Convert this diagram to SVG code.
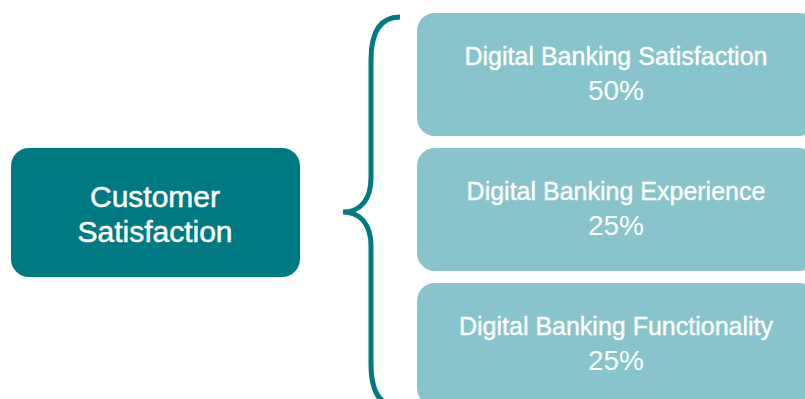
<svg xmlns="http://www.w3.org/2000/svg" width="805" height="399" viewBox="0 0 805 399">
<style>
.main{fill:#007A82;}
.sub{fill:#88C4CB;}
.t{font-family:"Liberation Sans",Arial,sans-serif;fill:#FFFFFF;text-anchor:middle;}
.mt{font-size:30px;stroke:#FFFFFF;stroke-width:0.5;}
.st{font-size:25px;stroke:#FFFFFF;stroke-width:0.4;}
.pt{font-size:28px;}
.brace{fill:none;stroke:#007A82;stroke-width:5;}
</style>
<rect width="805" height="399" fill="#FFFFFF"/>
<g id="customer-satisfaction">
<rect class="main" x="11" y="148" width="289" height="129" rx="18"/>
<text class="t mt" x="155" y="207">Customer</text>
<text class="t mt" x="155" y="242">Satisfaction</text>
</g>
<g id="connectors">
<path class="brace" d="M400,17 C380,17 371,32 371,60 L371,178 C371,200 360,212 343,212 C360,212 371,224 371,246 L371,364 C371,392 380,407 400,407"/>
</g>
<g id="digital-banking-satisfaction">
<rect class="sub" x="417" y="13" width="400" height="123" rx="18"/>
<text class="t st" x="616" y="65">Digital Banking Satisfaction</text>
<text class="t pt" x="616" y="100">50%</text>
</g>
<g id="digital-banking-experience">
<rect class="sub" x="417" y="148" width="400" height="123" rx="18"/>
<text class="t st" x="616" y="200">Digital Banking Experience</text>
<text class="t pt" x="616" y="235">25%</text>
</g>
<g id="digital-banking-functionality">
<rect class="sub" x="417" y="283" width="400" height="123" rx="18"/>
<text class="t st" x="616" y="335">Digital Banking Functionality</text>
<text class="t pt" x="616" y="370">25%</text>
</g>
</svg>
